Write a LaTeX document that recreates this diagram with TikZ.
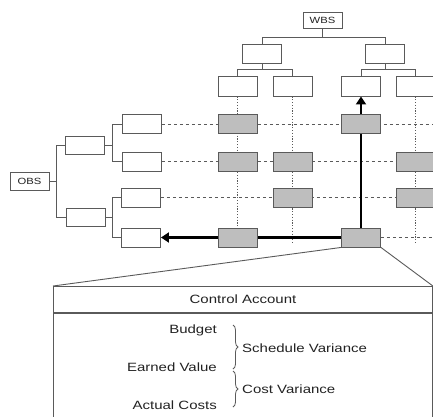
\documentclass[tikz,border=0pt]{standalone}
\usepackage{fontspec}
\setmainfont{Liberation Sans}[FakeStretch=1.25]
\usetikzlibrary{arrows.meta,decorations.pathreplacing}
\pgfdeclarelayer{background}
\pgfsetlayers{background,main}
\definecolor{edge}{HTML}{5A5A5A}
\definecolor{cellfill}{HTML}{BEBEBE}
\definecolor{txt}{HTML}{222222}
\tikzset{
  wbox/.style={draw=edge, line width=0.9pt, fill=white, minimum width=39pt, minimum height=19pt, inner sep=0pt},
  cell/.style={draw=edge, line width=0.9pt, fill=cellfill, minimum width=39pt, minimum height=19pt, inner sep=0pt},
  tree/.style={draw=edge, line width=0.9pt},
  rowline/.style={draw=edge, line width=0.8pt, dash pattern=on 3.5pt off 2.5pt},
  colline/.style={draw=edge, line width=0.8pt, dash pattern=on 1.2pt off 1.6pt},
  bold/.style={draw=black, line width=2.8pt, -{Triangle[length=8pt,width=10pt]}},
  smalltxt/.style={font=\fontsize{9}{10}\selectfont, text=txt},
  bigtxt/.style={font=\fontsize{12}{14}\selectfont, text=txt, inner sep=0pt},
  brc/.style={draw=edge, line width=0.8pt, decorate, decoration={brace, amplitude=5pt}}
}
\begin{document}
\begin{tikzpicture}[x=1pt,y=-1pt]
\useasboundingbox (0,0) rectangle (433,416);
\clip (0,0) rectangle (433,416);
% WBS tree
\node[wbox, minimum height=16pt, smalltxt] (wbs) at (322.5,20) {WBS};
\node[wbox] (w2a) at (262,53.5) {};
\node[wbox] (w2b) at (385,53.5) {};
\node[wbox, minimum height=20pt] (w3a) at (237.5,86) {};
\node[wbox, minimum height=20pt] (w3b) at (292.5,86) {};
\node[wbox, minimum height=20pt] (w3c) at (361,86) {};
\node[wbox, minimum height=20pt] (w3d) at (415.5,86) {};
% OBS tree
\node[wbox, minimum height=18pt, smalltxt] (obs) at (29.5,181) {OBS};
\node[wbox, minimum height=18pt] (o2a) at (84.5,145) {};
\node[wbox, minimum height=18pt] (o2b) at (85.5,217) {};
\node[wbox] (o3a) at (142,124) {};
\node[wbox] (o3b) at (142,161.5) {};
\node[wbox] (o3c) at (141,197.5) {};
\node[wbox] (o3d) at (141,237.5) {};
% matrix cells
\node[cell] (g11) at (237.5,124) {};
\node[cell] (g31) at (361,124) {};
\node[cell] (g12) at (237.5,161.5) {};
\node[cell] (g22) at (292.5,161.5) {};
\node[cell] (g42) at (415.5,161.5) {};
\node[cell] (g23) at (292.5,197.5) {};
\node[cell] (g43) at (415.5,197.5) {};
\node[cell] (g14) at (237.5,237.5) {};
\node[cell] (ca) at (361,237.5) {};
% row and column ends
\coordinate (r1) at (440,124);
\coordinate (r2) at (440,161.5);
\coordinate (r3) at (440,197.5);
\coordinate (r4) at (440,237.5);
\coordinate (c1) at (237.5,243);
\coordinate (c2) at (292.5,243);
\coordinate (c4) at (415.5,243);
% control account box
\node[draw=edge, line width=0.9pt, fill=white, anchor=north west, minimum width=379pt, minimum height=26pt, inner sep=0pt] (cahead) at (53,286) {};
\node[bigtxt] (catitle) at (cahead.center) {Control Account};
\node[draw=edge, line width=0.9pt, anchor=north west, minimum width=379pt, minimum height=140pt, inner sep=0pt] (cabody) at (cahead.south west) {};
\node[bigtxt, anchor=east] (budget) at (217,330) {Budget};
\node[bigtxt, anchor=east] (ev) at (217,367) {Earned Value};
\node[bigtxt, anchor=east] (ac) at (217,405) {Actual Costs};
\coordinate (b1t) at (233,325);
\coordinate (b1b) at (233,369);
\coordinate (b2t) at (233,371);
\coordinate (b2b) at (233,407);
\node[bigtxt, anchor=west] (sv) at (242,348) {Schedule Variance};
\node[bigtxt, anchor=west] (cv) at (242,389) {Cost Variance};
\draw[brc] (b1t) -- (b1b);
\draw[brc] (b2t) -- (b2b);
\begin{pgfonlayer}{background}
% tree connectors
\draw[tree] (wbs.south) -- ++(0,9) coordinate (wj);
\draw[tree] (w2a.north) |- (wj) -| (w2b.north);
\draw[tree] (w2a.south) -- ++(0,6) coordinate (wja);
\draw[tree] (w3a.north) |- (wja) -| (w3b.north);
\draw[tree] (w2b.south) -- ++(0,6) coordinate (wjb);
\draw[tree] (w3c.north) |- (wjb) -| (w3d.north);
\draw[tree] (obs.east) -- ++(7,0) coordinate (oj);
\draw[tree] (o2a.west) -| (oj) |- (o2b.west);
\draw[tree] (o2a.east) -- ++(8,0) coordinate (oja);
\draw[tree] (o3a.west) -| (oja) |- (o3b.west);
\draw[tree] (o2b.east) -- ++(7,0) coordinate (ojb);
\draw[tree] (o3c.west) -| (ojb) |- (o3d.west);
% grid lines
\draw[rowline] (o3a.east) -- (r1);
\draw[rowline] (o3b.east) -- (r2);
\draw[rowline] (o3c.east) -- (r3);
\draw[rowline] (ca.east) -- (r4);
\draw[colline] (w3a.south) -- (c1);
\draw[colline] (w3b.south) -- (c2);
\draw[colline] (w3d.south) -- (c4);
% bold paths
\draw[bold] (ca.north) -- (w3c.south);
\draw[bold] (ca.west) -- (o3d.east);
% zoom lines
\draw[tree] (ca.south west) -- (cahead.north west);
\draw[tree] (ca.south east) -- (cahead.north east);
\end{pgfonlayer}
\end{tikzpicture}
\end{document}
